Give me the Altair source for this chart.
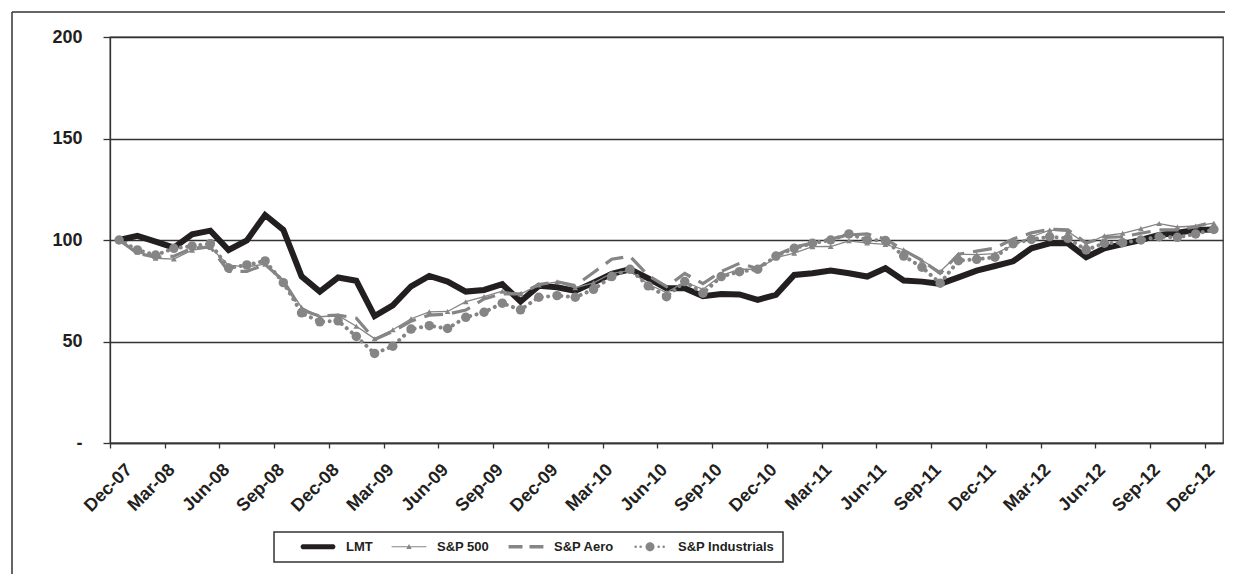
import math
import altair as alt
import pandas as pd

# ---------------- data ----------------
months = [
    "Dec-07",
    "Jan-08", "Feb-08", "Mar-08", "Apr-08", "May-08", "Jun-08",
    "Jul-08", "Aug-08", "Sep-08", "Oct-08", "Nov-08", "Dec-08",
    "Jan-09", "Feb-09", "Mar-09", "Apr-09", "May-09", "Jun-09",
    "Jul-09", "Aug-09", "Sep-09", "Oct-09", "Nov-09", "Dec-09",
    "Jan-10", "Feb-10", "Mar-10", "Apr-10", "May-10", "Jun-10",
    "Jul-10", "Aug-10", "Sep-10", "Oct-10", "Nov-10", "Dec-10",
    "Jan-11", "Feb-11", "Mar-11", "Apr-11", "May-11", "Jun-11",
    "Jul-11", "Aug-11", "Sep-11", "Oct-11", "Nov-11", "Dec-11",
    "Jan-12", "Feb-12", "Mar-12", "Apr-12", "May-12", "Jun-12",
    "Jul-12", "Aug-12", "Sep-12", "Oct-12", "Nov-12", "Dec-12",
]
tick_labels = months[::3]

series_names = ["LMT", "S&P 500", "S&P Aero", "S&P Industrials"]

lmt = [100.0, 102.0, 99.2, 96.2, 102.8, 104.6, 95.1, 99.8, 112.3, 105.0,
       82.1, 74.6, 81.5, 79.9, 62.5, 67.8, 77.2, 82.3, 79.5, 74.6,
       75.4, 78.2, 69.7, 77.4, 76.7, 74.9, 79.0, 83.3, 85.6, 81.1,
       76.2, 76.2, 72.3, 73.4, 73.2, 70.5, 73.0, 82.8, 83.6, 84.9,
       83.6, 82.0, 86.1, 80.0, 79.5, 78.4, 81.6, 84.9, 87.2, 89.5,
       95.9, 98.4, 98.4, 91.5, 95.9, 98.0, 100.0, 102.5, 103.6, 104.9,
       105.2]

sp500 = [100.0, 94.0, 91.0, 90.6, 95.0, 96.3, 87.6, 86.8, 88.1, 80.3,
         66.8, 62.2, 62.8, 57.5, 51.4, 55.8, 61.2, 64.6, 64.8, 69.6,
         72.1, 74.8, 73.4, 77.9, 79.4, 76.5, 78.9, 83.6, 84.9, 78.2,
         74.1, 79.3, 75.7, 82.5, 85.6, 85.6, 91.3, 93.5, 96.7, 96.8,
         99.6, 98.5, 97.8, 95.2, 90.0, 84.5, 93.0, 92.8, 93.3, 97.4,
         101.6, 104.9, 104.2, 98.0, 102.1, 103.3, 105.6, 108.1, 106.4, 106.9,
         108.3]

aero = [100.0, 93.5, 91.5, 92.0, 96.0, 96.5, 84.5, 84.5, 88.0, 80.0,
        65.5, 62.5, 63.0, 61.5, 51.0, 55.0, 60.0, 63.0, 63.5, 65.5,
        71.0, 73.5, 73.5, 78.0, 79.5, 77.5, 84.0, 90.5, 92.0, 82.5,
        77.0, 83.5, 78.5, 84.5, 88.5, 86.0, 92.5, 96.5, 98.5, 100.5,
        102.5, 103.0, 100.5, 95.0, 90.0, 83.5, 93.0, 94.5, 96.0, 100.5,
        103.5, 105.3, 105.0, 98.5, 101.3, 101.6, 103.3, 105.0, 105.0, 106.6,
        109.0]

industrials = [100.0, 95.1, 92.6, 95.9, 97.0, 98.2, 86.2, 87.7, 89.7, 79.0,
               64.1, 59.7, 60.2, 52.5, 44.1, 47.7, 56.1, 57.8, 56.4, 61.9,
               64.4, 68.9, 65.6, 71.8, 72.6, 71.8, 75.7, 82.0, 85.6, 77.4,
               72.1, 79.5, 73.8, 82.0, 84.4, 85.6, 92.1, 95.9, 98.4, 100.0,
               103.0, 100.0, 99.7, 92.1, 86.6, 78.7, 89.8, 90.5, 91.5, 98.2,
               100.3, 101.6, 100.8, 95.1, 98.4, 98.7, 100.0, 101.6, 101.3, 103.0,
               105.2]

y_ticks = [0, 50, 100, 150, 200]

# ---------------- table ----------------
rows = []
for name, vals in zip(series_names, [lmt, sp500, aero, industrials]):
    for i, v in enumerate(vals):
        rows.append({"idx": i, "month": months[i], "series": name, "value": v})
df = pd.DataFrame(rows)

# ---------------- styles ----------------
BLACK = "#231f20"
GRAY = "#858585"
LINE = "#333333"
W, H = 1113, 406
PAD = {"left": 102, "top": 29, "right": 2, "bottom": 131}
band = W / len(months)
S = 0.87  # legend path scale


def poly(points):
    return "M" + "L".join(f"{x * S:.3f},{y * S:.3f}" for x, y in points) + "Z"


def circle(cx, cy, r, n=14):
    return poly([(cx + r * math.cos(2 * math.pi * k / n),
                  cy + r * math.sin(2 * math.pi * k / n)) for k in range(n)])


def bar(x1, x2, h):
    return poly([(x1, -h), (x2, -h), (x2, h), (x1, h)])


def stadium(x1, x2, h, n=8):
    pts = []
    for k in range(n + 1):
        a = -math.pi / 2 + math.pi * k / n
        pts.append((x2 + h * math.cos(a), h * math.sin(a)))
    for k in range(n + 1):
        a = math.pi / 2 + math.pi * k / n
        pts.append((x1 + h * math.cos(a), h * math.sin(a)))
    return poly(pts)


# legend symbol paths
legend_paths = [
    stadium(-3.4, 3.4, 0.6),
    bar(-4.0, 4.0, 0.13) + poly([(0, -0.65), (0.62, 0.5), (-0.62, 0.5)]),
    bar(-4.0, -0.8, 0.38) + bar(0.8, 4.0, 0.38),
    circle(-3.3, 0, 0.3, 8) + circle(-2.15, 0, 0.3, 8) + circle(0, 0, 1.05)
    + circle(2.0, 0, 0.3, 8) + circle(3.15, 0, 0.3, 8),
]
legend_colors = [BLACK, GRAY, GRAY, GRAY]

label_expr = ("[" + ",".join(f"'{t}'" for t in tick_labels) + "]"
              "[round(datum.value / 3)]")

x_axis = alt.Axis(
    values=list(range(0, len(months), 3)),
    labelExpr=label_expr,
    labelAngle=315,
    labelAlign="right",
    labelBaseline="middle",
    labelPadding=19,
    labelOffset={"condition": {"test": "datum.value === 0", "value": 19}, "value": 7},
    labelFlush=False,
    labelOverlap=False,
    tickOffset=-band / 2,
    tickSize=5,
    grid=False,
    title=None,
)
y_axis = alt.Axis(
    values=y_ticks,
    labelExpr="datum.value == 0 ? '-' : format(datum.value, 'd')",
    tickSize=7,
    labelPadding=21,
    grid=True,
    gridColor=LINE,
    gridWidth=1.3,
    title=None,
)

X = alt.X("idx:Q", scale=alt.Scale(domain=[-0.5, len(months) - 0.5], nice=False, zero=False), axis=x_axis)
Y = alt.Y("value:Q", scale=alt.Scale(domain=[0, 200], nice=False, zero=True), axis=y_axis)

base = alt.Chart(df)

# outer chart border: only the left edge (top edge drawn below up to plot edge)
one = pd.DataFrame({"a": [0]})
frame_top = alt.Chart(one).mark_rule(color=LINE, strokeWidth=1.5).encode(
    x=alt.value(-98), x2=alt.value(W + PAD["right"]), y=alt.value(-25))
frame_left = alt.Chart(one).mark_rule(color=LINE, strokeWidth=1.5).encode(
    x=alt.value(-98), y=alt.value(-25), y2=alt.value(H + PAD["bottom"]))

lmt_line = base.transform_filter(alt.datum.series == "LMT").mark_line(
    color=BLACK, strokeWidth=6).encode(x=X, y=Y)
sp_line = base.transform_filter(alt.datum.series == "S&P 500").mark_line(
    color=GRAY, strokeWidth=1.3).encode(x=X, y=Y)
sp_pts = base.transform_filter(alt.datum.series == "S&P 500").mark_point(
    shape="triangle-up", filled=True, size=34, color=GRAY, opacity=1).encode(x=X, y=Y)
aero_line = base.transform_filter(alt.datum.series == "S&P Aero").mark_line(
    color=GRAY, strokeWidth=3.2, strokeDash=[19, 9]).encode(x=X, y=Y)
ind_line = base.transform_filter(alt.datum.series == "S&P Industrials").mark_line(
    color=GRAY, strokeWidth=4, strokeDash=[0.1, 6.5], strokeCap="round").encode(x=X, y=Y)
ind_pts = base.transform_filter(alt.datum.series == "S&P Industrials").mark_point(
    shape="circle", filled=True, size=90, color=GRAY, opacity=1).encode(x=X, y=Y)

leg = alt.Legend(
    orient="none",
    legendX=164,
    legendY=495,
    direction="horizontal",
    title=None,
    strokeColor=LINE,
    fillColor="white",
    padding=8,
    columnPadding=0,
    symbolSize=100,
    symbolStrokeWidth=0,
    symbolOffset=17 + 20 - 7.5,
    labelOffset=21.5,
    labelFont="Liberation Sans",
    labelFontSize=13,
    labelFontWeight="bold",
    labelColor=BLACK,
    labelLimit=300,
)

legend_layer = alt.Chart(pd.DataFrame({"series": series_names})).transform_filter(
    "false"
).mark_point(filled=True, opacity=1).encode(
    x=alt.value(0),
    y=alt.value(0),
    color=alt.Color("series:N", scale=alt.Scale(domain=series_names, range=legend_colors), legend=leg),
    shape=alt.Shape("series:N", scale=alt.Scale(domain=series_names, range=legend_paths), legend=leg),
)

chart = alt.layer(
    frame_top, frame_left, lmt_line, sp_line, sp_pts, aero_line, ind_line, ind_pts, legend_layer
).properties(
    width=W,
    height=H,
    autosize=alt.AutoSizeParams(type="none"),
    padding=PAD,
    background="white",
).configure_view(
    stroke=LINE, strokeWidth=1.3
).configure_axis(
    labelFont="Liberation Sans",
    labelFontSize=18,
    labelFontWeight="bold",
    labelColor=BLACK,
    domainColor=LINE,
    domainWidth=1.3,
    tickColor=LINE,
    tickWidth=1.3,
).configure_legend(
    strokeWidth=1.5
)

chart.save("out.html", embed_options={"renderer": "svg", "actions": False})
